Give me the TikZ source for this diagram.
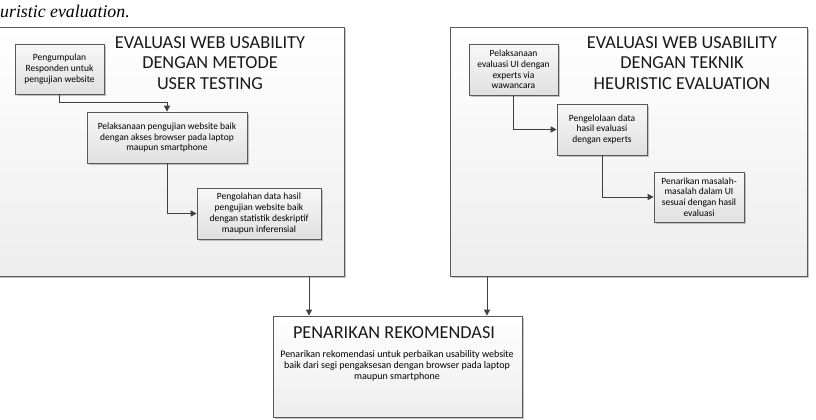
\documentclass[tikz,border=0pt]{standalone}
\usepackage{fontspec}
\setmainfont{Carlito}
\newfontfamily\serifit{Liberation Serif}
\usetikzlibrary{arrows.meta,shadows,calc}
\begin{document}
\begin{tikzpicture}[x=1pt,y=-1pt,
  bigbox/.style={draw=black!65, line width=0.8pt, top color=white, bottom color=black!7,
    drop shadow={shadow xshift=2pt,shadow yshift=-2pt,fill=black!45}, inner sep=0pt},
  smallbox/.style={draw=black!65, line width=0.7pt, top color=black!3, bottom color=black!12,
    drop shadow={shadow xshift=2pt,shadow yshift=-2pt,fill=black!45},
    align=center, font=\fontsize{9.5}{10.7}\selectfont, inner sep=1pt},
  titletext/.style={font=\fontsize{18.3}{20.7}\selectfont, align=center, text=black!90},
  desctext/.style={font=\fontsize{10}{11}\selectfont, align=center},
  conn/.style={draw=black!75, line width=0.9pt, -{Triangle[length=6pt,width=6pt]}}
]
\useasboundingbox (0,0) rectangle (816,420);
\node[anchor=base west, font=\serifit\itshape\fontsize{17.8}{20}\selectfont, inner sep=0pt] (cap) at (0,18) {uristic evaluation.};

% big boxes
\node[bigbox, minimum width=349pt, minimum height=249pt] (lbig) at (169.5,151.5) {};
\node[bigbox, minimum width=357pt, minimum height=249pt] (rbig) at (628.5,151.5) {};
\node[bigbox, minimum width=249pt, minimum height=101pt] (rec) at (397.5,366.5) {};

% titles
\node[titletext] (lt) at (210,63) {EVALUASI WEB USABILITY\\DENGAN METODE\\USER TESTING};
\node[titletext] (rt) at (682,63) {EVALUASI WEB USABILITY\\DENGAN TEKNIK\\HEURISTIC EVALUATION};
\node[titletext] (rect) at (394,333) {PENARIKAN REKOMENDASI};
\node[desctext] (recd) at (397,366) {Penarikan rekomendasi untuk perbaikan usability website\\baik dari segi pengaksesan dengan browser pada laptop\\maupun smartphone};

% left steps
\node[smallbox, minimum width=89pt, minimum height=50pt] (b1) at (59.5,69) {Pengumpulan\\Responden untuk\\pengujian website};
\node[smallbox, minimum width=160pt, minimum height=51pt] (b2) at (167,137.5) {Pelaksanaan pengujian website baik\\dengan akses browser pada laptop\\maupun smartphone};
\node[smallbox, minimum width=124pt, minimum height=51pt] (b3) at (259,213.5) {Pengolahan data hasil\\pengujian website baik\\dengan statistik deskriptif\\maupun inferensial};

% right steps
\node[smallbox, minimum width=89pt, minimum height=51pt] (ba) at (513.5,69.5) {Pelaksanaan\\evaluasi UI dengan\\experts via\\wawancara};
\node[smallbox, minimum width=90pt, minimum height=51pt] (bb) at (602,129.5) {Pengelolaan data\\hasil evaluasi\\dengan experts};
\node[smallbox, minimum width=90pt, minimum height=50pt] (bc) at (699,197) {Penarikan masalah-\\masalah dalam UI\\sesuai dengan hasil\\evaluasi};

% connectors
\draw[conn] (b1.south) -- ++(0,8) -| (b2.north);
\draw[conn] (b2.south) |- (b3.west);
\draw[conn] (ba.south) |- (bb.west);
\draw[conn] (bb.south) |- (bc.west);
\coordinate (la) at (309,276);
\coordinate (ra) at (487,276);
\draw[conn] (la) -- (la |- rec.north);
\draw[conn] (ra) -- (ra |- rec.north);
\end{tikzpicture}
\end{document}
